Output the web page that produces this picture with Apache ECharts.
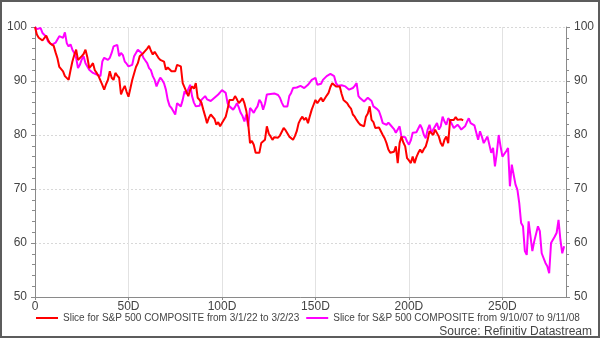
<!DOCTYPE html>
<html>
<head>
<meta charset="utf-8">
<script src="https://cdn.jsdelivr.net/npm/echarts@6/dist/echarts.min.js"></script>
<style>
  html, body { margin: 0; padding: 0; background: #fff; }
  #frame { width: 600px; height: 338px; box-sizing: border-box; border: 2px solid #5c5c5c; background: #fff; }
  #chart { width: 596px; height: 334px; }
</style>
</head>
<body>
<div id="frame"><div id="chart"></div></div>
<script>
// Rebased S&P 500 index (start = 100), one value per trading day
const slice2022Name = 'Slice for S&P 500 COMPOSITE from 3/1/22 to 3/2/23';
const slice2007Name = 'Slice for S&P 500 COMPOSITE from 9/10/07 to 9/11/08';

const slice2022 = [
  100, 98.6, 98.0, 97.8, 97.5, 97.7, 98.4, 97.6, 97.0, 97.1,
  96.5, 95.3, 94.2, 92.6, 92.3, 91.8, 90.9, 90.6, 90.2, 92.0,
  93.6, 94.8, 95.8, 93.9, 94.2, 94.6, 95.0, 95.8, 94.4, 92.4,
  92.8, 93.3, 92.0, 91.5, 90.9, 90.6, 89.3, 88.4, 89.4, 90.2,
  91.8, 90.6, 90.2, 91.5, 91.0, 90.6, 87.5, 88.4, 89.1, 88.0,
  87.1, 88.6, 90.2, 91.4, 92.6, 93.3, 94.6, 94.4, 95.2, 95.5,
  96.0, 96.5, 95.6, 94.9, 95.4, 95.2, 94.3, 93.9, 94.0, 93.6,
  92.1, 92.5, 92.7, 91.8, 92.0, 91.8, 93.0, 92.9, 92.7, 89.6,
  89.3, 88.0, 87.2, 88.4, 89.0, 88.6, 89.6, 86.9, 86.5, 86.0,
  84.7, 83.5, 82.2, 83.2, 83.8, 84.1, 83.0, 81.9, 82.4, 81.6,
  82.2, 82.5, 83.4, 84.8, 86.5, 86.2, 86.5, 87.2, 86.6, 85.9,
  86.3, 86.8, 85.9, 84.5, 82.2, 78.5, 78.9, 78.2, 76.7, 77.0,
  76.7, 78.5, 78.2, 79.1, 81.6, 80.3, 79.7, 79.1, 79.6, 79.7,
  79.5, 79.9, 80.6, 81.3, 80.9, 80.7, 79.7, 79.5, 79.1, 79.8,
  80.7, 82.2, 82.9, 83.4, 82.8, 83.2, 82.2, 83.5, 84.7, 85.6,
  86.5, 85.9, 86.1, 86.9, 86.2, 86.5, 87.3, 87.8, 88.9, 89.6,
  89.9, 89.0, 88.7, 89.0, 87.6, 86.5, 86.2, 85.9, 85.3, 84.9,
  83.8, 83.4, 82.8, 82.3, 81.9, 82.0, 81.6, 83.4, 84.0, 85.3,
  82.8, 82.4, 81.3, 81.6, 81.4, 81.6, 80.0, 79.4, 78.5, 77.3,
  76.7, 76.4, 76.9, 77.9, 74.8, 78.5, 79.7, 78.6, 77.9, 75.7,
  75.3, 74.8, 76.0, 74.8, 75.9, 76.7, 77.3, 76.7, 77.4, 77.9,
  79.1, 80.7, 81.0, 80.0, 81.0, 81.3, 79.7, 78.5, 77.9, 79.1,
  79.7, 78.5, 82.8, 83.1, 82.8, 83.3, 82.8, 82.5, 82.9, 82.7
];

const slice2007 = [
  100, 99.6, 99.5, 99.8, 98.9, 98.6, 98.2, 97.3, 97.0, 96.7,
  97.0, 97.1, 97.2, 98.3, 98.6, 98.0, 99.0, 97.0, 96.4, 96.8,
  95.8, 95.2, 94.3, 92.4, 93.0, 94.0, 94.6, 93.3, 93.0, 92.1,
  91.9, 91.5, 91.7, 91.2, 91.4, 90.9, 93.6, 94.3, 94.6, 93.9,
  94.3, 95.2, 96.4, 96.5, 96.7, 94.6, 95.2, 94.8, 93.6, 93.2,
  92.7, 92.9, 93.0, 94.6, 95.2, 95.8, 95.6, 95.2, 94.3, 93.8,
  93.3, 92.4, 92.0, 90.9, 90.2, 89.0, 89.9, 90.6, 90.2, 89.6,
  88.4, 86.5, 85.4, 85.0, 84.7, 83.8, 85.9, 85.6, 85.3, 86.5,
  88.1, 87.6, 88.5, 89.3, 87.2, 86.0, 85.3, 85.6, 85.4, 86.5,
  86.8, 87.2, 86.6, 86.3, 86.3, 86.2, 86.9, 87.1, 87.5, 87.9,
  88.3, 88.0, 87.8, 85.9, 85.3, 85.6, 84.7, 85.2, 85.9, 85.1,
  84.1, 83.5, 82.5, 83.8, 81.6, 85.0, 84.6, 84.1, 84.8, 85.3,
  86.5, 86.0, 84.7, 85.8, 87.5, 87.4, 87.6, 87.5, 87.7, 87.8,
  87.4, 86.9, 86.0, 85.3, 85.4, 85.3, 87.2, 87.8, 88.7, 88.4,
  88.8, 89.0, 89.1, 89.3, 88.7, 88.9, 89.3, 89.6, 90.2, 90.3,
  90.6, 89.3, 89.6, 89.5, 90.2, 90.5, 90.9, 91.1, 91.3, 91.0,
  90.9, 89.6, 89.1, 88.9, 89.2, 88.9, 89.0, 89.3, 88.4, 88.6,
  88.7, 89.1, 89.6, 87.2, 86.8, 86.5, 86.2, 85.9, 86.9, 86.6,
  86.3, 85.3, 85.2, 84.8, 84.4, 83.4, 82.2, 82.4, 81.9, 82.3,
  81.9, 81.6, 81.1, 80.4, 81.0, 81.6, 79.7, 79.4, 79.6, 78.8,
  78.2, 79.0, 80.4, 80.7, 80.5, 80.7, 81.9, 81.2, 80.0, 79.4,
  81.0, 81.9, 80.4, 81.0, 81.6, 82.2, 81.0, 81.6, 83.4, 82.5,
  81.9, 83.1, 82.7, 82.5, 81.3, 81.6, 81.9, 81.5, 81.0, 81.2,
  81.6, 82.4, 83.1, 82.2, 81.9, 81.8, 81.6, 79.1, 80.7, 79.7,
  78.5, 78.8, 79.7, 80.0, 76.7, 77.6, 74.2, 76.7, 80.0, 77.9,
  76.0, 76.0, 77.0, 77.6, 70.5, 74.5, 74.2, 70.8, 69.9, 67.4,
  63.7, 63.1, 58.5, 57.8, 64.0, 63.7, 58.5, 60.3, 60.6, 63.1,
  62.2, 58.1, 58.0, 56.3, 55.7, 54.4, 60.0, 59.7, 61.2, 61.9,
  64.3, 60.6, 58.1, 59.4
];

const xMax = 284;
const yTicks = { min: 50, max: 100, interval: 10 };
const sourceText = 'Source: Refinitiv Datastream';

const toPairs = arr => arr.map((v, i) => [i, v]);

const fontFamily = 'Liberation Sans, Arial, sans-serif';
const labelStyle = { color: '#444', fontSize: 12, fontFamily: fontFamily };
const axisLineStyle = { color: '#8a8a8a', width: 1 };

function yAxisDef(position, showSplit) {
  return {
    type: 'value',
    position: position,
    min: yTicks.min,
    max: yTicks.max,
    interval: yTicks.interval,
    axisLine: { show: true, lineStyle: axisLineStyle },
    axisTick: { show: true, length: 4, lineStyle: axisLineStyle },
    minorTick: { show: true, splitNumber: 5, length: 3, lineStyle: axisLineStyle },
    axisLabel: Object.assign({ margin: 8 }, labelStyle),
    splitLine: { show: showSplit, lineStyle: { color: '#d8d8d8', type: [2, 2], width: 1 } }
  };
}

const chart = echarts.init(document.getElementById('chart'), null, { renderer: 'canvas' });

chart.setOption({
  animation: false,
  backgroundColor: '#fff',
  grid: { left: 33, right: 32, top: 25, bottom: 39, containLabel: false },
  xAxis: {
    type: 'value',
    min: 0,
    max: xMax,
    interval: 50,
    axisLine: { show: true, onZero: false, lineStyle: axisLineStyle },
    axisTick: { show: true, length: 3, lineStyle: axisLineStyle },
    axisLabel: Object.assign({
      margin: 4,
      showMaxLabel: false,
      formatter: v => (v === 0 ? '0' : v + 'D')
    }, labelStyle),
    splitLine: { show: true, lineStyle: { color: '#e2e2e2', width: 1 } }
  },
  yAxis: [yAxisDef('left', true), yAxisDef('right', false)],
  legend: {
    top: 311,
    left: 34,
    width: 556,
    orient: 'horizontal',
    itemWidth: 22,
    itemHeight: 2,
    itemGap: 7,
    padding: 0,
    icon: 'rect',
    textStyle: { color: '#444', fontSize: 10, fontFamily: fontFamily },
    data: [slice2022Name, slice2007Name]
  },
  graphic: [{
    type: 'text',
    right: 6,
    bottom: -2,
    style: {
      text: sourceText,
      fill: '#444',
      font: '12px ' + fontFamily
    }
  }],
  series: [
    {
      name: slice2022Name,
      type: 'line',
      yAxisIndex: 0,
      showSymbol: false,
      symbol: 'none',
      color: '#ff0000',
      lineStyle: { width: 2, color: '#ff0000' },
      data: toPairs(slice2022),
      z: 3
    },
    {
      name: slice2007Name,
      type: 'line',
      yAxisIndex: 0,
      showSymbol: false,
      symbol: 'none',
      color: '#ff00ff',
      lineStyle: { width: 2, color: '#ff00ff' },
      data: toPairs(slice2007),
      z: 2
    }
  ]
});
</script>
</body>
</html>
